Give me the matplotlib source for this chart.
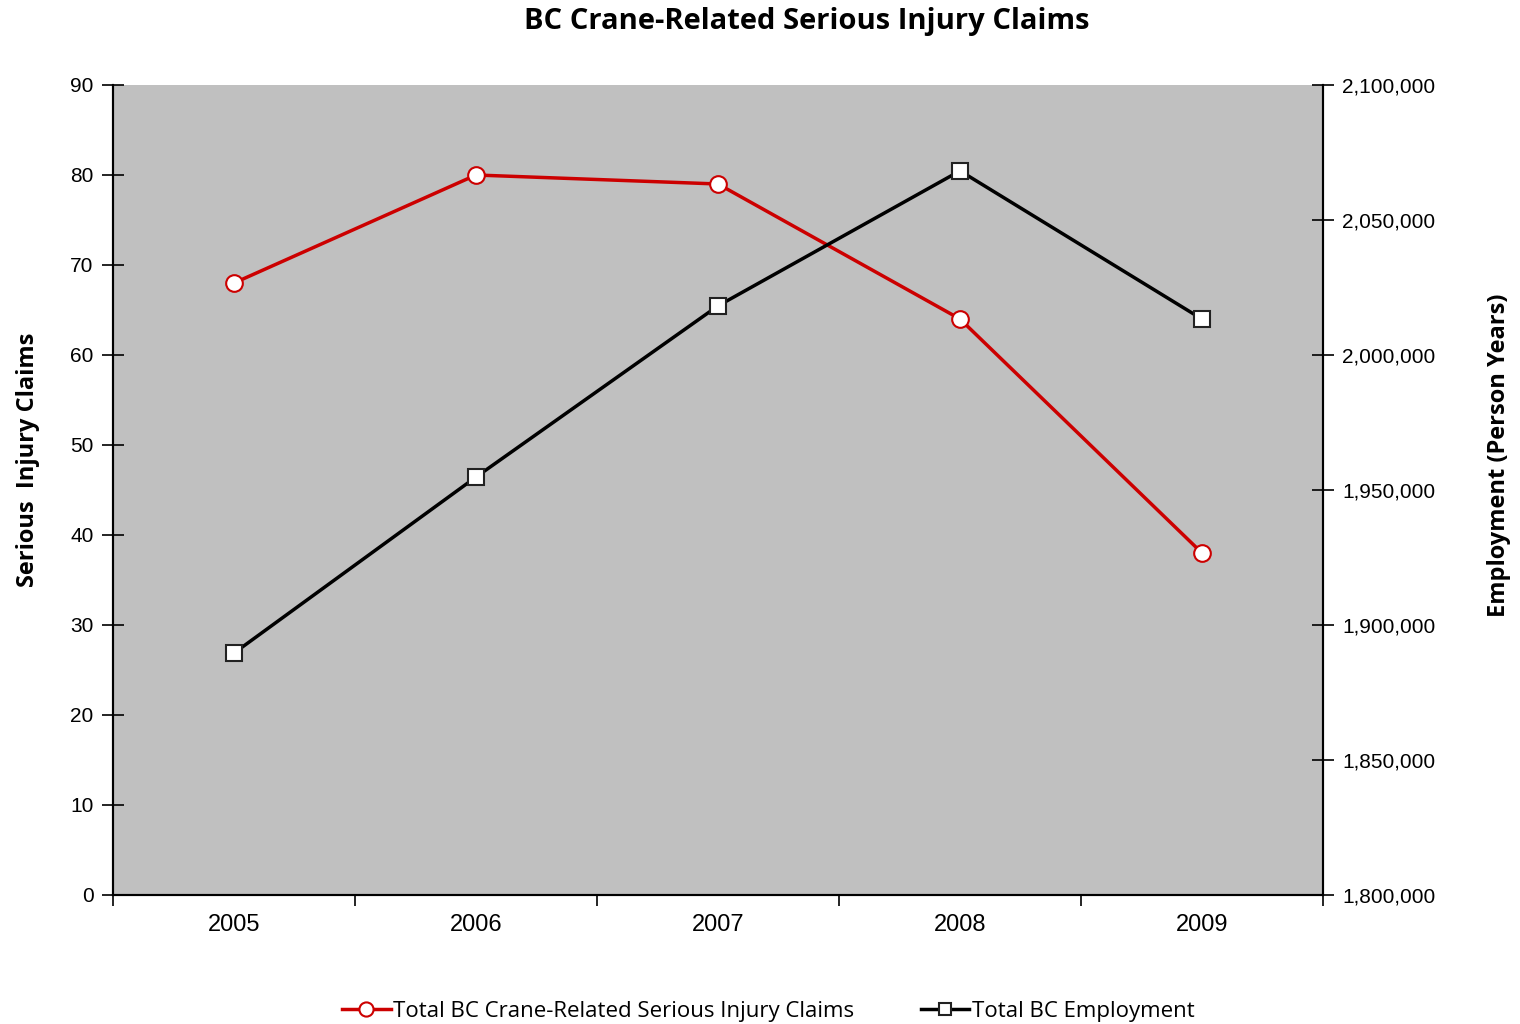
import matplotlib
matplotlib.use("Agg")
import matplotlib.pyplot as plt
from matplotlib.ticker import FuncFormatter, MultipleLocator, FixedLocator, NullFormatter

years = ["2005", "2006", "2007", "2008", "2009"]
claims = [68, 80, 79, 64, 38]
employment = [1889600, 1954800, 2018200, 2068200, 2013300]
claims_label = "Total BC Crane-Related Serious Injury Claims"
emp_label = "Total BC Employment"

fig = plt.figure(figsize=(15.2, 10.24), dpi=100)
ax = fig.add_axes([113/1520, 1 - 895/1024, (1323-113)/1520, (895-85)/1024])
ax.set_facecolor("#c0c0c0")
ax2 = ax.twinx()

x = list(range(len(years)))
l1, = ax.plot(x, claims, color="#cc0000", lw=2.5, marker="o", ms=12,
              mfc="white", mec="#cc0000", mew=1.5, label=claims_label, zorder=3)
l2, = ax2.plot(x, employment, color="black", lw=2.5, marker="s", ms=11,
               mfc="white", mec="#222222", mew=1.5, label=emp_label, zorder=3)

ax.set_xlim(-0.5, len(years) - 0.5)
ax.set_ylim(0, 90)
ax.yaxis.set_major_locator(MultipleLocator(10))
ax2.set_ylim(1800000, 2100000)
ax2.yaxis.set_major_locator(MultipleLocator(50000))
ax2.yaxis.set_major_formatter(FuncFormatter(lambda v, p: f"{int(v):,}"))

ax.xaxis.set_major_locator(FixedLocator([i - 0.5 for i in range(len(years) + 1)]))
ax.xaxis.set_major_formatter(NullFormatter())
ax.xaxis.set_minor_locator(FixedLocator(x))
ax.set_xticks(x, years, minor=True)
ax.tick_params(axis="x", which="major", direction="out", length=8, width=1.2)
ax.tick_params(axis="x", which="minor", length=0, pad=14, labelsize=17)

tick_font = "Liberation Sans"
for lab in ax.get_xticklabels(minor=True):
    lab.set_fontfamily(tick_font)
ax.tick_params(axis="y", direction="inout", length=16, width=1.2, labelsize=15, pad=6)
ax2.tick_params(axis="y", direction="inout", length=16, width=1.2, labelsize=15, pad=6)
for lab in ax.get_yticklabels() + ax2.get_yticklabels():
    lab.set_fontfamily(tick_font)

for a in (ax, ax2):
    a.spines["top"].set_visible(False)
    for s in ("left", "right", "bottom"):
        a.spines[s].set_linewidth(1.5)
        a.spines[s].set_color("black")

ax.set_ylabel("Serious  Injury Claims", fontsize=17, fontweight="bold",
              fontfamily="Open Sans")
ax.yaxis.set_label_coords((40 - 113) / 1210, (895 - 460) / 810)
ax2.set_ylabel("Employment (Person Years)", fontsize=17, fontweight="bold",
               fontfamily="Open Sans", rotation=90)
ax2.yaxis.set_label_coords((1487 - 113) / 1210, (895 - 455) / 810)

fig.text(807/1520, 1 - 21/1024, "BC Crane-Related Serious Injury Claims",
         ha="center", va="center", fontsize=21, fontweight="bold", fontfamily="Open Sans")

fig.legend([l1, l2], [claims_label, emp_label], loc="center",
           bbox_to_anchor=(768/1520, 1 - 1011/1024), ncol=2, frameon=False,
           prop={"family": "Open Sans", "size": 16}, handlelength=2.2,
           handletextpad=0.1, columnspacing=3, markerscale=0.85)

fig.savefig("out.png", dpi=100, facecolor="white")
